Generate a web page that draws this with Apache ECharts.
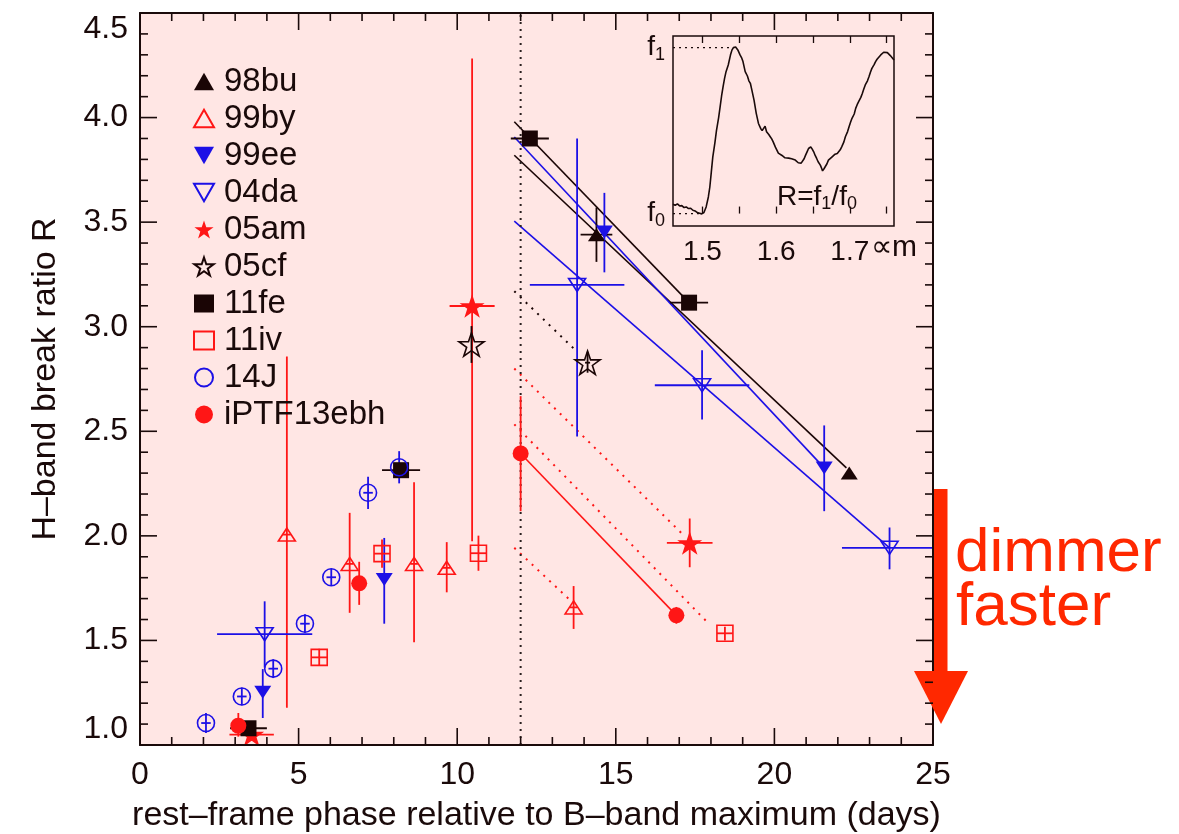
<!DOCTYPE html>
<html><head><meta charset="utf-8">
<script src="https://cdn.jsdelivr.net/npm/echarts@6/dist/echarts.min.js"></script>
<style>html,body{margin:0;padding:0;background:#fff}#c{width:1179px;height:834px}</style>
</head><body><div id="c"></div>
<script>
// ---------------- data ----------------
const snNames = ['98bu','99by','99ee','04da','05am','05cf','11fe','11iv','14J','iPTF13ebh'];
// rows: [phase (days), R, phase error, R low, R high]
const obs98bu = [[14.39,3.44,0.5,3.31,3.57],[22.36,2.30,0,2.29,2.31]];
const obs99by = [[4.63,2.006,0.12,1.178,2.858],[6.61,1.866,0.12,1.632,2.11],[8.64,1.866,0.12,1.491,2.256],[9.67,1.847,0.12,1.73,1.97],[13.67,1.658,0.12,1.555,1.76]];
const obs99ee = [[3.87,1.252,0,1.129,1.363],[7.70,1.791,0,1.58,1.99],[14.64,3.453,0,3.26,3.64],[21.57,2.325,0,2.118,2.528]];
const obs04da = [[3.93,1.53,1.5,1.37,1.687],[13.78,3.20,1.49,2.475,3.90],[17.72,2.72,1.49,2.556,2.888],[23.63,1.943,1.5,1.84,2.04]];
const obs05am = [[3.52,1.05,0.7,1.02,1.08],[10.47,3.099,0.71,1.974,4.282],[17.33,1.966,0.72,1.85,2.083]];
const obs05cf = [[10.45,2.915,0,2.827,3.003],[14.11,2.828,0.08,2.78,2.88]];
const obs11fe = [[3.42,1.08,0.58,1.07,1.09],[8.23,2.314,0.6,2.30,2.33],[12.29,3.90,0.6,3.89,3.91],[17.31,3.115,0.6,3.10,3.13]];
const obs11iv = [[5.65,1.419,0.25,1.38,1.46],[7.63,1.915,0.25,1.847,1.983],[10.67,1.917,0.25,1.833,2.001],[18.44,1.534,0.25,1.50,1.565]];
const obs14J = [[2.08,1.105,0.15,1.057,1.153],[3.21,1.232,0.15,1.19,1.274],[4.20,1.365,0.15,1.32,1.41],[5.20,1.580,0.15,1.535,1.625],[6.03,1.802,0.15,1.762,1.842],[7.19,2.206,0.15,2.129,2.283],[8.17,2.328,0.15,2.251,2.405]];
const obsPTF = [[3.10,1.092,0,1.04,1.153],[6.91,1.773,0,1.67,1.876],[12.0,2.394,0,2.118,2.668],[16.91,1.620,0,1.58,1.66]];
const obsBySN = [obs98bu, obs99by, obs99ee, obs04da, obs05am, obs05cf, obs11fe, obs11iv, obs14J, obsPTF];

// linear fits after the reference phase (endpoints)
const fit11fe = [[11.8,3.98],[17.31,3.115]];
const fit98bu = [[11.8,3.82],[22.27,2.325]];
const fit99ee = [[11.8,3.907],[21.57,2.325]];
const fit04da = [[11.8,3.505],[23.63,1.943]];
const fitPTF  = [[12.0,2.394],[16.91,1.62]];
const fit05cf = [[11.8,3.17],[13.76,2.883]];
const fit05am = [[11.8,2.80],[17.12,2.006]];
const fit11iv = [[11.8,2.533],[17.86,1.591]];
const fit99by = [[11.8,1.943],[13.6,1.687]];
const refPhase = 12;

// axis ranges and ticks
const xRange = [0, 25];
const yRange = [1, 4.5];
const xTicks = [0,5,10,15,20,25];
const xMinorTicks = [1,2,3,4,6,7,8,9,11,12,13,14,16,17,18,19,21,22,23,24];
const yTicks = [1.0,1.5,2.0,2.5,3.0,3.5,4.0,4.5];
const yMinorTicks = [1.1,1.2,1.3,1.4,1.6,1.7,1.8,1.9,2.1,2.2,2.3,2.4,2.6,2.7,2.8,2.9,3.1,3.2,3.3,3.4,3.6,3.7,3.8,3.9,4.1,4.2,4.3,4.4];
const insetLabelTicks = [1.5,1.6,1.7];
const insetMinorTicks = [1.5,1.55,1.6,1.65,1.7,1.75];

// inset spectrum: [wavelength (um), normalised flux, f0 = 0, f1 = 1]
const spectrum = [[1.460,0.056],[1.463,0.050],[1.466,0.058],[1.469,0.046],[1.472,0.048],[1.475,0.036],[1.478,0.040],[1.481,0.030],[1.484,0.032],[1.487,0.020],[1.490,0.016],[1.493,0.006],[1.496,0.002],[1.499,-0.002],[1.502,0.006],[1.505,0.040],[1.508,0.100],[1.510,0.160],[1.512,0.250],[1.514,0.340],[1.517,0.430],[1.519,0.500],[1.522,0.580],[1.524,0.644],[1.526,0.710],[1.528,0.765],[1.530,0.815],[1.532,0.855],[1.535,0.895],[1.538,0.955],[1.540,0.985],[1.542,1.000],[1.545,1.004],[1.548,0.986],[1.551,0.956],[1.553,0.940],[1.555,0.916],[1.558,0.855],[1.561,0.829],[1.563,0.800],[1.565,0.785],[1.567,0.745],[1.570,0.684],[1.573,0.604],[1.576,0.543],[1.579,0.513],[1.581,0.500],[1.583,0.493],[1.585,0.527],[1.587,0.493],[1.590,0.476],[1.592,0.463],[1.594,0.450],[1.596,0.432],[1.599,0.400],[1.601,0.382],[1.603,0.364],[1.605,0.352],[1.608,0.350],[1.610,0.346],[1.612,0.336],[1.614,0.342],[1.617,0.334],[1.619,0.338],[1.621,0.330],[1.623,0.326],[1.626,0.322],[1.628,0.318],[1.630,0.306],[1.632,0.298],[1.634,0.304],[1.636,0.312],[1.638,0.330],[1.640,0.352],[1.642,0.372],[1.644,0.392],[1.647,0.402],[1.649,0.388],[1.651,0.372],[1.653,0.350],[1.655,0.332],[1.657,0.312],[1.660,0.292],[1.662,0.270],[1.663,0.257],[1.665,0.270],[1.666,0.282],[1.669,0.300],[1.671,0.322],[1.673,0.330],[1.676,0.342],[1.678,0.350],[1.680,0.358],[1.683,0.362],[1.685,0.366],[1.687,0.384],[1.689,0.402],[1.692,0.432],[1.694,0.463],[1.697,0.494],[1.699,0.523],[1.701,0.550],[1.703,0.574],[1.706,0.600],[1.708,0.634],[1.710,0.656],[1.712,0.674],[1.715,0.700],[1.717,0.724],[1.719,0.750],[1.721,0.775],[1.724,0.800],[1.726,0.825],[1.728,0.852],[1.730,0.875],[1.733,0.898],[1.735,0.916],[1.737,0.930],[1.739,0.942],[1.742,0.956],[1.744,0.966],[1.746,0.972],[1.748,0.976],[1.751,0.970],[1.753,0.966],[1.755,0.952],[1.757,0.942],[1.760,0.926]];
const f1Guide = [[1.46,1],[1.537,1]];
const f0Guide = [[1.46,0],[1.496,0]];

// ---------------- styles ----------------
const FONT = '"Liberation Sans", Arial, Helvetica, sans-serif';
const DARK = '#1a0a0a';
const RED = '#ff1616';
const BLUE = '#1c10e6';
const BLK = '#1a0505';
const PINK = '#ffe6e4';
const ORANGE = '#ff2800';
const MAJOR_LEN = 17, MINOR_LEN = 8;
const UP = 'path://M5,0L10,8.66L0,8.66Z';
const DOWN = 'path://M0,0L10,0L5,8.66Z';
const STAR = 'path://M50,0L61.8,35.1L98.9,35.1L68.9,56.7L80.3,91.9L50,70.3L19.7,91.9L31.1,56.7L1.1,35.1L38.2,35.1Z';
const snStyle = {
  '98bu': {symbol: UP, size: [17,15], color: BLK, open: false},
  '99by': {symbol: UP, size: [17,15], color: RED, open: true},
  '99ee': {symbol: DOWN, size: [17,15], color: BLUE, open: false},
  '04da': {symbol: DOWN, size: [17,15], color: BLUE, open: true},
  '05am': {symbol: STAR, size: 25, color: RED, open: false},
  '05cf': {symbol: STAR, size: 25, color: BLK, open: true},
  '11fe': {symbol: 'rect', size: 16, color: BLK, open: false},
  '11iv': {symbol: 'rect', size: 16, color: RED, open: true},
  '14J': {symbol: 'circle', size: 17, color: BLUE, open: true},
  'iPTF13ebh': {symbol: 'circle', size: 16, color: RED, open: false}
};

function errRender(color) {
  return function (params, api) {
    const x = api.value(0), y = api.value(1);
    const x0 = api.value(2), x1 = api.value(3), y0 = api.value(4), y1 = api.value(5);
    const st = {stroke: color, lineWidth: 1.8};
    const ch = [];
    if (x1 > x0) {
      const a = api.coord([x0, y]), b = api.coord([x1, y]);
      ch.push({type: 'line', shape: {x1: a[0], y1: a[1], x2: b[0], y2: b[1]}, style: st});
    }
    if (y1 > y0) {
      const a = api.coord([x, y0]), b = api.coord([x, y1]);
      ch.push({type: 'line', shape: {x1: a[0], y1: a[1], x2: b[0], y2: b[1]}, style: st});
    }
    return {type: 'group', children: ch};
  };
}

const series = [];
function fitLine(name, data, color, dotted) {
  series.push({
    name: name, type: 'line', data: data, xAxisIndex: 0, yAxisIndex: 0,
    showSymbol: false, symbol: 'none', silent: true, z: 2, animation: false,
    lineStyle: {color: color, width: dotted ? 2 : 1.6, type: dotted ? [2, 6] : 'solid', opacity: 1}
  });
}
fitLine('fit 11fe', fit11fe, BLK, false);
fitLine('fit 98bu', fit98bu, BLK, false);
fitLine('fit 99ee', fit99ee, BLUE, false);
fitLine('fit 04da', fit04da, BLUE, false);
fitLine('fit iPTF13ebh', fitPTF, RED, false);
fitLine('fit 05cf', fit05cf, BLK, true);
fitLine('fit 05am', fit05am, RED, true);
fitLine('fit 11iv', fit11iv, RED, true);
fitLine('fit 99by', fit99by, RED, true);
series.push({
  name: 'reference phase', type: 'line', data: [[refPhase, yRange[0]], [refPhase, yRange[1]]],
  showSymbol: false, symbol: 'none', silent: true, z: 2, animation: false,
  lineStyle: {color: '#2a2020', width: 2, type: [2, 5]}
});

snNames.forEach(function (n, i) {
  const s = snStyle[n];
  const obs = obsBySN[i];
  series.push({
    name: n + ' err', type: 'custom', xAxisIndex: 0, yAxisIndex: 0, clip: true, z: 3,
    renderItem: errRender(s.color), animation: false, silent: true,
    data: obs.map(function (r) { return [r[0], r[1], r[0] - r[2], r[0] + r[2], r[3], r[4]]; })
  });
  series.push({
    name: n, type: 'scatter', xAxisIndex: 0, yAxisIndex: 0, z: 4, animation: false,
    symbol: s.symbol, symbolSize: s.size, symbolKeepAspect: true,
    itemStyle: s.open ? {color: 'rgba(0,0,0,0)', borderColor: s.color, borderWidth: 1.6, opacity: 1}
                      : {color: s.color, borderWidth: 0, opacity: 1},
    emphasis: {disabled: true},
    data: obs.map(function (r) { return [r[0], r[1]]; })
  });
});

// inset
series.push({
  name: 'spectrum', type: 'line', xAxisIndex: 2, yAxisIndex: 2, data: spectrum, z: 6,
  showSymbol: false, symbol: 'none', silent: true, animation: false,
  lineStyle: {color: DARK, width: 1.6}
});
series.push({
  name: 'f1 guide', type: 'line', xAxisIndex: 2, yAxisIndex: 2, data: f1Guide, z: 6,
  showSymbol: false, symbol: 'none', silent: true, animation: false,
  lineStyle: {color: DARK, width: 1.2, type: [2, 4]}
});
series.push({
  name: 'f0 guide', type: 'line', xAxisIndex: 2, yAxisIndex: 2, data: f0Guide, z: 6,
  showSymbol: false, symbol: 'none', silent: true, animation: false,
  lineStyle: {color: DARK, width: 1.2, type: [2, 4]}
});

const subRich = {
  n: {fontSize: 28, fontFamily: FONT, color: DARK, lineHeight: 32},
  s: {fontSize: 18, fontFamily: FONT, color: DARK, lineHeight: 14, verticalAlign: 'bottom'}
};
const frameLine = {show: true, onZero: false, lineStyle: {color: DARK, width: 2}};

const baseGraphic = [
  {id: 'ratio', type: 'text', left: 777, top: 183, z: 100,
   style: {rich: subRich, text: '{n|R=f}{s|1}{n|/f}{s|0}', fill: DARK}},
  {id: 'unit', type: 'text', left: 871, top: 233, z: 100,
   style: {text: '\u221dm', fontSize: 30, fontFamily: FONT, fill: DARK}},
  {id: 'arrowBody', type: 'rect', shape: {x: 934, y: 489, width: 13.5, height: 183}, style: {fill: ORANGE}, z: 100},
  {id: 'arrowHead', type: 'polygon', shape: {points: [[914, 671], [968, 671], [941, 724]]}, style: {fill: ORANGE}, z: 100},
  {id: 'dimmer', type: 'text', x: 955, y: 554, z: 100,
   style: {text: 'dimmer', fontSize: 62, fontFamily: FONT, fill: ORANGE, verticalAlign: 'middle'}},
  {id: 'faster', type: 'text', x: 956, y: 608, z: 100,
   style: {text: 'faster', fontSize: 62, fontFamily: FONT, fill: ORANGE, verticalAlign: 'middle'}}
];

const option = {
  backgroundColor: '#ffffff',
  animation: false,
  textStyle: {fontFamily: FONT},
  grid: [
    {left: 140, right: 246, top: 13, bottom: 89, show: true, backgroundColor: PINK, borderWidth: 0, containLabel: false, outerBoundsMode: 'none'},
    {left: 673, top: 36, width: 221, height: 190, show: true, backgroundColor: PINK, borderColor: DARK, borderWidth: 1.5, containLabel: false, outerBoundsMode: 'none'}
  ],
  legend: {
    data: snNames, orient: 'vertical', left: 188, top: 58, itemWidth: 20, itemHeight: 18, itemGap: 0,
    selectedMode: false,
    textStyle: {fontSize: 33, color: DARK, fontFamily: FONT, lineHeight: 37, padding: [0, 0, 0, 5]}
  },
  xAxis: [
    {type: 'value', gridIndex: 0, position: 'bottom', min: xRange[0], max: xRange[1], interval: 5, z: 10,
     axisLine: frameLine, axisTick: {show: false}, splitLine: {show: false},
     axisLabel: {fontSize: 32, color: DARK, margin: 14, fontFamily: FONT,
       formatter: function (v) { return String(v); }},
     name: 'rest\u2013frame phase relative to B\u2013band maximum (days)', nameLocation: 'middle', nameGap: 54,
     nameTextStyle: {fontSize: 34, color: DARK, fontFamily: FONT}},
    {type: 'value', gridIndex: 0, position: 'top', min: xRange[0], max: xRange[1], interval: 5, z: 10,
     axisLine: frameLine, axisTick: {show: false}, splitLine: {show: false},
     axisLabel: {show: false}},
    {type: 'value', gridIndex: 1, position: 'bottom', min: 1.46, max: 1.76, z: 10,
     axisLine: {show: false}, splitLine: {show: false},
     axisTick: {show: true, inside: true, length: 7, customValues: insetMinorTicks, lineStyle: {color: DARK, width: 1.3}},
     axisLabel: {show: true, fontSize: 28, color: DARK, margin: 12, fontFamily: FONT,
       customValues: insetLabelTicks, formatter: function (v) { return v.toFixed(1); }}},
    {type: 'value', gridIndex: 1, position: 'top', min: 1.46, max: 1.76, z: 10,
     axisLine: {show: false}, splitLine: {show: false},
     axisTick: {show: true, inside: true, length: 7, customValues: insetMinorTicks, lineStyle: {color: DARK, width: 1.3}},
     axisLabel: {show: false}}
  ],
  yAxis: [
    {type: 'value', gridIndex: 0, position: 'left', min: yRange[0], max: yRange[1], interval: 0.5, z: 10,
     axisLine: frameLine, axisTick: {show: false}, splitLine: {show: false},
     axisLabel: {fontSize: 32, color: DARK, margin: 12, fontFamily: FONT,
       verticalAlignMaxLabel: 'top', verticalAlignMinLabel: 'bottom',
       formatter: function (v) { return v.toFixed(1); }},
     name: 'H\u2013band break ratio R', nameLocation: 'middle', nameGap: 77, nameRotate: 90,
     nameTextStyle: {fontSize: 34, color: DARK, fontFamily: FONT}},
    {type: 'value', gridIndex: 0, position: 'right', min: yRange[0], max: yRange[1], interval: 0.5, z: 10,
     axisLine: frameLine, axisTick: {show: false}, splitLine: {show: false},
     axisLabel: {show: false}},
    {type: 'value', gridIndex: 1, position: 'left', min: -0.075, max: 1.07, z: 10,
     axisLine: {show: false}, splitLine: {show: false}, axisTick: {show: false},
     axisLabel: {show: true, margin: 8, customValues: [0, 1],
       formatter: function (v) { return '{n|f}{s|' + (v > 0.5 ? '1' : '0') + '}'; },
       rich: subRich}}
  ],
  graphic: baseGraphic,
  series: series
};

const chart = echarts.init(document.getElementById('c'), null, {renderer: 'canvas'});
chart.setOption(option);

// frame ticks: positions come from the main grid's scales via convertToPixel
const tickEls = [];
function px(v) { return chart.convertToPixel({gridIndex: 0}, v); }
function pushLine(id, a, b) {
  tickEls.push({id: id, type: 'line', z: 150, silent: true,
    shape: {x1: a[0], y1: a[1], x2: b[0], y2: b[1]}, style: {stroke: DARK, lineWidth: 1.6}});
}
function xTickEls(vals, len, tag) {
  vals.forEach(function (v, i) {
    const a = px([v, yRange[0]]), b = px([v, yRange[1]]);
    pushLine('xb' + tag + i, a, [a[0], a[1] - len]);
    pushLine('xt' + tag + i, b, [b[0], b[1] + len]);
  });
}
function yTickEls(vals, len, tag) {
  vals.forEach(function (v, i) {
    const a = px([xRange[0], v]), b = px([xRange[1], v]);
    pushLine('yl' + tag + i, a, [a[0] + len, a[1]]);
    pushLine('yr' + tag + i, b, [b[0] - len, b[1]]);
  });
}
xTickEls(xTicks, MAJOR_LEN, 'M');
xTickEls(xMinorTicks, MINOR_LEN, 'm');
yTickEls(yTicks, MAJOR_LEN, 'M');
yTickEls(yMinorTicks, MINOR_LEN, 'm');
chart.setOption({graphic: baseGraphic.concat(tickEls)});
</script>
</body></html>
